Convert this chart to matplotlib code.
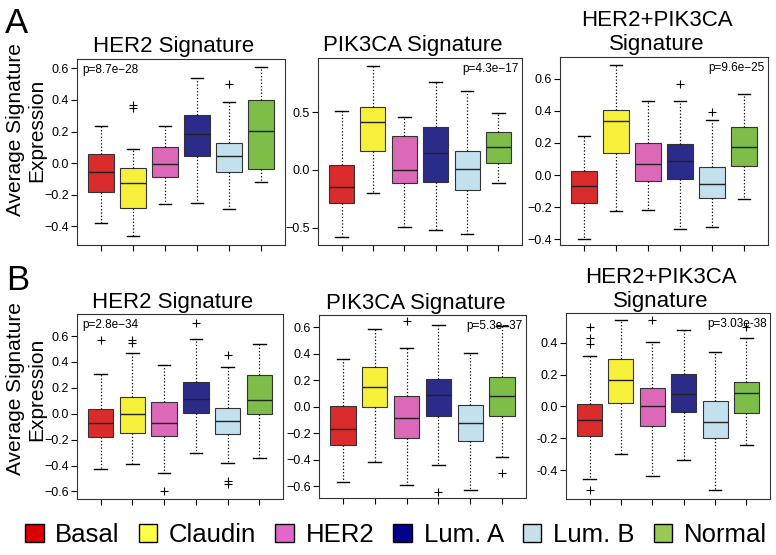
import matplotlib
matplotlib.use("Agg")
import matplotlib.pyplot as plt
from matplotlib.patches import Patch

plt.rcParams['font.family'] = ['Liberation Sans', 'DejaVu Sans']
plt.rcParams['axes.unicode_minus'] = True

groups = ['Basal', 'Claudin', 'HER2', 'Lum. A', 'Lum. B', 'Normal']
box_colors = ['#d92b2b', '#f7f03a', '#dc68b8', '#2b2b8a', '#c3e0ef', '#7dbd48']
legend_colors = ['#dd0000', '#ffff44', '#e066cc', '#00008c', '#c8e0ea', '#99c955']

# row A, HER2 signature
A_her2_q1 = [-0.185, -0.285, -0.09, 0.044, -0.054, -0.035]
A_her2_med = [-0.056, -0.127, -0.008, 0.185, 0.046, 0.206]
A_her2_q3 = [0.06, -0.033, 0.10, 0.304, 0.127, 0.40]
A_her2_lo = [-0.38, -0.465, -0.258, -0.252, -0.29, -0.123]
A_her2_hi = [0.237, 0.088, 0.237, 0.54, 0.39, 0.61]
A_her2_out = [[], [0.37, 0.35], [], [], [0.50], []]

# row A, PIK3CA signature
A_pik_q1 = [-0.289, 0.168, -0.11, -0.101, -0.176, 0.064]
A_pik_med = [-0.15, 0.416, 0.0, 0.145, 0.006, 0.2]
A_pik_q3 = [0.043, 0.549, 0.298, 0.373, 0.168, 0.332]
A_pik_lo = [-0.584, -0.20, -0.491, -0.52, -0.558, -0.11]
A_pik_hi = [0.51, 0.905, 0.457, 0.766, 0.685, 0.497]
A_pik_out = [[], [], [], [], [], []]

# row A, HER2+PIK3CA signature
A_both_q1 = [-0.175, 0.137, -0.038, -0.023, -0.143, 0.057]
A_both_med = [-0.065, 0.337, 0.072, 0.086, -0.055, 0.177]
A_both_q3 = [0.023, 0.408, 0.202, 0.196, 0.053, 0.301]
A_both_lo = [-0.40, -0.221, -0.217, -0.337, -0.324, -0.147]
A_both_hi = [0.242, 0.688, 0.461, 0.463, 0.345, 0.505]
A_both_out = [[], [], [], [0.566], [0.39], []]

# row B, HER2 signature
B_her2_q1 = [-0.179, -0.146, -0.169, 0.005, -0.153, 0.0]
B_her2_med = [-0.072, 0.0, -0.072, 0.112, -0.059, 0.107]
B_her2_q3 = [0.036, 0.128, 0.092, 0.243, 0.043, 0.30]
B_her2_lo = [-0.43, -0.387, -0.458, -0.30, -0.38, -0.343]
B_her2_hi = [0.31, 0.47, 0.38, 0.58, 0.358, 0.536]
B_her2_out = [[0.567], [0.57, 0.55], [-0.60], [0.70], [0.45, -0.52, -0.54], []]

# row B, PIK3CA signature
B_pik_q1 = [-0.29, -0.005, -0.234, -0.068, -0.257, -0.068]
B_pik_med = [-0.164, 0.149, -0.081, 0.088, -0.121, 0.083]
B_pik_q3 = [0.005, 0.297, 0.083, 0.212, 0.013, 0.224]
B_pik_lo = [-0.564, -0.418, -0.59, -0.438, -0.626, -0.375]
B_pik_hi = [0.358, 0.587, 0.446, 0.618, 0.403, 0.61]
B_pik_out = [[], [], [0.65], [-0.64], [], [-0.50]]

# row B, HER2+PIK3CA signature
B_both_q1 = [-0.183, 0.021, -0.121, -0.0375, -0.198, -0.042]
B_both_med = [-0.0875, 0.167, 0.0, 0.077, -0.1, 0.083]
B_both_q3 = [0.017, 0.296, 0.115, 0.204, 0.035, 0.152]
B_both_lo = [-0.459, -0.302, -0.438, -0.339, -0.528, -0.242]
B_both_hi = [0.317, 0.54, 0.406, 0.479, 0.344, 0.433]
B_both_out = [[0.496, 0.433, 0.392, -0.528], [], [0.54], [], [], [0.50]]

W, H = 776, 555


def axes_at(fig, left, top, right, bottom):
    # pixel box -> figure fraction
    return fig.add_axes([left / W, 1 - bottom / H, (right - left) / W, (bottom - top) / H])


def draw_panel(ax, q1, med, q3, lo, hi, out, ylim, yticks, title, pval, pside,
               yticklabels=None, pad=5):
    stats = []
    for i in range(len(groups)):
        stats.append(dict(med=med[i], q1=q1[i], q3=q3[i], whislo=lo[i], whishi=hi[i], fliers=out[i]))
    bp = ax.bxp(stats, positions=range(1, 7), widths=0.8, capwidths=0.4, patch_artist=True,
                boxprops=dict(edgecolor='#333333', linewidth=0.8),
                medianprops=dict(color='#222222', linewidth=1.0),
                whiskerprops=dict(color='black', linestyle=':', linewidth=0.9),
                capprops=dict(color='black', linewidth=1.0),
                flierprops=dict(marker='+', markeredgecolor='black', markersize=6, markeredgewidth=0.8))
    for patch, c in zip(bp['boxes'], box_colors):
        patch.set_facecolor(c)
    ax.set_xlim(0.25, 6.75)
    ax.set_ylim(*ylim)
    ax.set_xticks(range(1, 7))
    ax.set_xticklabels([])
    ax.set_yticks(yticks)
    if yticklabels is not None:
        ax.set_yticklabels(yticklabels)
    ax.tick_params(direction='out', length=4, width=0.8, labelsize=9, pad=2)
    for sp in ax.spines.values():
        sp.set_linewidth(0.8)
        sp.set_color('#333333')
    ax.set_title(title, fontsize=16, pad=pad, x=0.465)
    if pside == 'left':
        ax.text(0.025, 0.975, pval, transform=ax.transAxes, ha='left', va='top', fontsize=8.5)
    else:
        ax.text(0.985, 0.975, pval, transform=ax.transAxes, ha='right', va='top', fontsize=8.5)


fig = plt.figure(figsize=(W / 100, H / 100), dpi=100)

ax = axes_at(fig, 77, 59, 285, 245)
draw_panel(ax, A_her2_q1, A_her2_med, A_her2_q3, A_her2_lo, A_her2_hi, A_her2_out,
           (-0.52, 0.66), [-0.4, -0.2, 0.0, 0.2, 0.4, 0.6], 'HER2 Signature', 'p=8.7e\u221228', 'left')

ax = axes_at(fig, 318, 58, 522, 245)
draw_panel(ax, A_pik_q1, A_pik_med, A_pik_q3, A_pik_lo, A_pik_hi, A_pik_out,
           (-0.65, 0.97), [-0.5, 0.0, 0.5], 'PIK3CA Signature', 'p=4.3e\u221217', 'right')

ax = axes_at(fig, 560, 57, 768, 245)
draw_panel(ax, A_both_q1, A_both_med, A_both_q3, A_both_lo, A_both_hi, A_both_out,
           (-0.435, 0.735), [-0.4, -0.2, 0.0, 0.2, 0.4, 0.6], 'HER2+PIK3CA\nSignature',
           'p=9.6e\u221225', 'right')

ax = axes_at(fig, 77, 314, 283, 499)
draw_panel(ax, B_her2_q1, B_her2_med, B_her2_q3, B_her2_lo, B_her2_hi, B_her2_out,
           (-0.658, 0.77), [-0.6, -0.4, -0.2, 0.0, 0.2, 0.4, 0.6], 'HER2 Signature',
           'p=2.8e\u221234', 'left', pad=4)

ax = axes_at(fig, 319, 315, 526, 498)
draw_panel(ax, B_pik_q1, B_pik_med, B_pik_q3, B_pik_lo, B_pik_hi, B_pik_out,
           (-0.688, 0.693), [-0.6, -0.4, -0.2, 0.0, 0.2, 0.4, 0.6], 'PIK3CA Signature',
           'p=5.3e\u221237', 'right', pad=4)

ax = axes_at(fig, 566, 313, 770, 499)
b3_ticks = [-0.4, -0.2, 0.0, 0.2, 0.4]
draw_panel(ax, B_both_q1, B_both_med, B_both_q3, B_both_lo, B_both_hi, B_both_out,
           (-0.582, 0.587), b3_ticks, 'HER2+PIK3CA\nSignature', 'p=3.03e-38', 'right',
           yticklabels=['%.1f' % t for t in b3_ticks], pad=4)

# panel letters and shared y labels
fig.text(5 / W, 1 - 33 / H, 'A', fontsize=25, va='baseline', ha='left')
fig.text(6 / W, 1 - 290 / H, 'B', fontsize=25, va='baseline', ha='left')
for yc in (130, 389):
    fig.text(26 / W, 1 - yc / H, 'Average Signature\nExpression', rotation=90,
             ha='center', va='center', multialignment='center', fontsize=15, linespacing=1.1)

handles = [Patch(facecolor=c, edgecolor='black', linewidth=1.0) for c in legend_colors]
fig.legend(handles, groups, loc='center', bbox_to_anchor=(396 / W, 1 - 535 / H), ncol=6,
           frameon=False, fontsize=18.5, handlelength=0.72, handleheight=0.72,
           handletextpad=0.45, columnspacing=0.75, borderaxespad=0, borderpad=0)

fig.savefig('out.png', dpi=100)
